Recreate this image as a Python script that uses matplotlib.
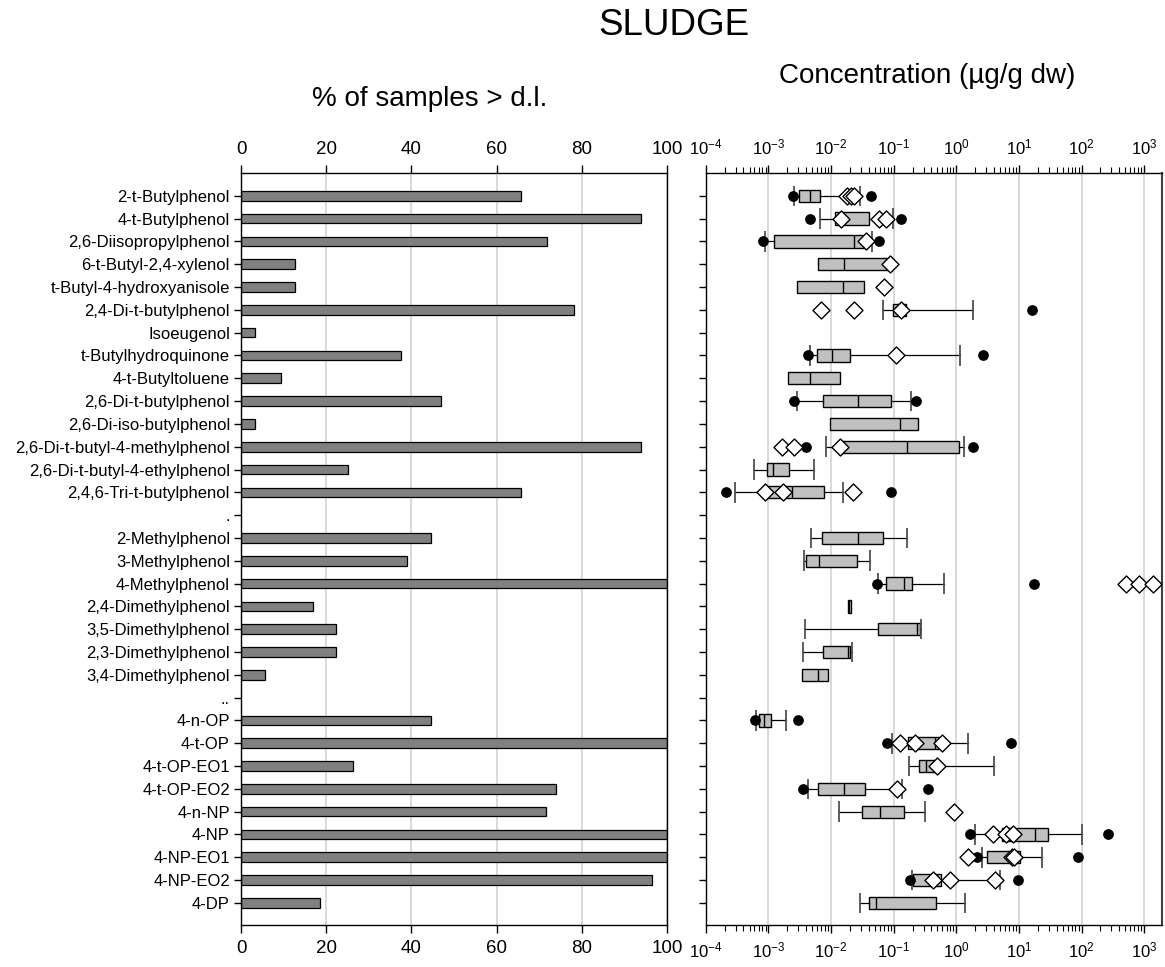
import numpy as np
import matplotlib
matplotlib.use("Agg")
import matplotlib.pyplot as plt
from matplotlib.ticker import LogLocator, FixedLocator, NullFormatter

plt.rcParams['font.family'] = ['Liberation Sans', 'DejaVu Sans']
plt.rcParams['mathtext.fontset'] = 'custom'
plt.rcParams['mathtext.rm'] = 'Liberation Sans'
plt.rcParams['mathtext.it'] = 'Liberation Sans:italic'
plt.rcParams['mathtext.bf'] = 'Liberation Sans:bold'

# ---- data -------------------------------------------------------------
compounds = [
    '2-t-Butylphenol', '4-t-Butylphenol', '2,6-Diisopropylphenol',
    '6-t-Butyl-2,4-xylenol', 't-Butyl-4-hydroxyanisole', '2,4-Di-t-butylphenol',
    'Isoeugenol', 't-Butylhydroquinone', '4-t-Butyltoluene',
    '2,6-Di-t-butylphenol', '2,6-Di-iso-butylphenol',
    '2,6-Di-t-butyl-4-methylphenol', '2,6-Di-t-butyl-4-ethylphenol',
    '2,4,6-Tri-t-butylphenol', '.',
    '2-Methylphenol', '3-Methylphenol', '4-Methylphenol', '2,4-Dimethylphenol',
    '3,5-Dimethylphenol', '2,3-Dimethylphenol', '3,4-Dimethylphenol', '..',
    '4-n-OP', '4-t-OP', '4-t-OP-EO1', '4-t-OP-EO2', '4-n-NP', '4-NP',
    '4-NP-EO1', '4-NP-EO2', '4-DP',
]

# % of samples above detection limit
pct_detected = [65.7, 93.8, 71.9, 12.7, 12.7, 78.2, 3.3, 37.6, 9.4, 46.9, 3.3,
                93.8, 25.1, 65.7, None, 44.6, 39.0, 100, 16.8, 22.3, 22.3, 5.6,
                None, 44.6, 100, 26.2, 74.0, 71.5, 100, 100, 96.4, 18.5]

# concentrations (ug/g dw): quartiles
q1 = [0.00303, 0.0114, 0.00124, 0.00617, 0.00284, 0.0964, None, 0.00594,
      0.00205, 0.0075, 0.00948, 0.014, 0.000933, 0.000944, None,
      0.00723, 0.00392, 0.0745, 0.0186, 0.0562, 0.0074, 0.00338, None,
      0.00072, 0.17, 0.254, 0.00617, 0.0311, 5.4, 3.06, 0.206, 0.0403]
median = [0.00459, 0.0146, 0.0229, 0.01626, 0.0153, 0.131, None, 0.0102,
          0.00454, 0.0265, 0.126, 0.165, 0.00119, 0.00237, None,
          0.0265, 0.0064, 0.1445, 0.0197, 0.236, 0.0188, 0.00617, None,
          0.000855, 0.457, 0.324, 0.0161, 0.0604, 17.9, 7.78, 0.435, 0.0521]
q3 = [0.00656, 0.0399, 0.033, 0.085, 0.0335, 0.159, None, 0.0198,
      0.0137, 0.0906, 0.242, 1.09, 0.0021, 0.00778, None,
      0.0675, 0.0256, 0.199, 0.0208, 0.26, 0.0198, 0.009, None,
      0.0011, 0.52, 0.46, 0.0343, 0.148, 28.9, 10.3, 0.578, 0.469]
# whisker ends (None = no whisker)
whisker_low = [0.00261, 0.00664, 0.000887, None, None, 0.0667, None, 0.00466,
               None, 0.00288, None, 0.00828, 0.000585, 0.000294, None,
               0.00476, 0.00368, 0.0555, None, 0.00382, 0.00359, None, None,
               0.00063, 0.0929, 0.178, 0.00427, 0.0134, 1.97, 2.58, 0.194, 0.0293]
whisker_high = [0.0286, 0.0964, 0.0455, None, None, 1.85, None, 1.13,
                None, 0.189, None, 1.35, 0.00526, 0.01567, None,
                0.165, 0.0424, 0.637, None, 0.276, 0.0213, None, None,
                0.00188, 1.54, 4.01, 0.134, 0.313, 102, 23.2, 5.06, 1.4]
# minimum / maximum values
extremes = [[0.00243, 0.044], [0.00466, 0.131], [0.000824, 0.0575], [], [],
            [16.2], [], [0.00427, 2.64], [], [0.00255, 0.227], [],
            [0.00392, 1.83], [], [0.000214, 0.0916], [],
            [], [], [0.054, 17.5], [], [], [], [], [],
            [0.000615, 0.00299], [0.0794, 7.4], [], [0.0036, 0.353], [],
            [1.68, 269], [2.14, 87], [0.182, 9.58], []]
# literature values
literature = [[0.0179, 0.021, 0.023], [0.0146, 0.0575, 0.0762], [0.0366],
              [0.0883], [0.069], [0.00689, 0.0232, 0.131], [], [0.107], [],
              [], [], [0.00162, 0.00255, 0.0137], [], [0.000887, 0.0017, 0.0224],
              [], [], [], [516, 832, 1377], [], [], [], [], [],
              [], [0.126, 0.218, 0.59], [0.492], [0.113], [0.92],
              [3.82, 6.17, 8.07], [1.52, 7.87, 8.47], [0.43, 0.78, 4.11], []]

pct_ticks = [0, 20, 40, 60, 80, 100]

# ---- figure -------------------------------------------------------------
fig = plt.figure(figsize=(11.65, 9.67), dpi=100)
ax1 = fig.add_axes([0.2069, 0.0434, 0.3657, 0.7777])
ax2 = fig.add_axes([0.6058, 0.0434, 0.3914, 0.7777])

rows = np.arange(len(compounds))
ylim = (31.97, -1.0)
grid_col = '#d3d3d3'

# left panel: detection frequency
det_rows = [r for r in rows if pct_detected[r] is not None]
ax1.barh(det_rows, [pct_detected[r] for r in det_rows], height=0.42,
         color='#808080', edgecolor='black', linewidth=0.9, zorder=2)
ax1.set_xlim(0, 100)
ax1.set_ylim(*ylim)
ax1.xaxis.set_major_locator(FixedLocator(pct_ticks))
ax1.set_xticklabels([str(t) for t in pct_ticks])
ax1.set_yticks(rows)
ax1.set_yticklabels(compounds, fontsize=12)
ax1.tick_params(axis='x', top=True, labeltop=True, bottom=True, labelbottom=True,
                direction='out', length=6, width=1, labelsize=13.5, pad=5)
ax1.tick_params(axis='y', direction='out', length=5, width=1, pad=3)
ax1.grid(axis='x', color=grid_col, linewidth=1.2, zorder=0)
ax1.set_axisbelow(True)
for s in ax1.spines.values():
    s.set_linewidth(1.0)

# right panel: concentrations
stats = []
box_rows = []
for r in rows:
    if q1[r] is None:
        continue
    lo = whisker_low[r] if whisker_low[r] is not None else q1[r]
    hi = whisker_high[r] if whisker_high[r] is not None else q3[r]
    stats.append(dict(med=median[r], q1=q1[r], q3=q3[r], whislo=lo, whishi=hi,
                      fliers=[]))
    box_rows.append(r)

ax2.set_xscale('log')
ax2.bxp(stats, positions=box_rows, widths=0.54, orientation='horizontal',
        patch_artist=True, showcaps=False, showfliers=False, manage_ticks=False,
        boxprops=dict(facecolor='#c0c0c0', edgecolor='black', linewidth=1.0),
        medianprops=dict(color='black', linewidth=1.0),
        whiskerprops=dict(color='black', linewidth=0.9), zorder=2)

cap_x, cap_y = [], []
for r in rows:
    for w in (whisker_low[r], whisker_high[r]):
        if w is not None:
            cap_x.append(w)
            cap_y.append(r)
cap_y = np.array(cap_y, dtype=float)
ax2.vlines(cap_x, cap_y - 0.45, cap_y + 0.45, color='#505050', linewidth=1.3,
           zorder=2.5)

ex_x = [v for r in rows for v in extremes[r]]
ex_y = [r for r in rows for v in extremes[r]]
ax2.scatter(ex_x, ex_y, s=45, marker='o', color='black', zorder=3)

lit_x = [v for r in rows for v in literature[r]]
lit_y = [r for r in rows for v in literature[r]]
ax2.scatter(lit_x, lit_y, s=75, marker='D', facecolor='white',
            edgecolor='black', linewidth=1.0, zorder=4)

ax2.set_xlim(1e-4, 10 ** 3.28)
ax2.set_ylim(*ylim)
ax2.xaxis.set_major_locator(LogLocator(base=10, numticks=20))
ax2.xaxis.set_minor_locator(LogLocator(base=10, subs=np.arange(2, 10), numticks=40))
ax2.xaxis.set_minor_formatter(NullFormatter())
ax2.set_yticks(rows)
ax2.set_yticklabels([])
ax2.tick_params(axis='x', which='both', top=True, labeltop=True, bottom=True,
                labelbottom=True, direction='out', labelsize=12, pad=5)
ax2.tick_params(axis='x', which='major', length=6, width=1)
ax2.tick_params(axis='x', which='minor', length=4, width=0.8)
ax2.tick_params(axis='y', direction='out', length=5, width=1)
ax2.grid(axis='x', which='major', color=grid_col, linewidth=1.2, zorder=0)
ax2.set_axisbelow(True)
for s in ax2.spines.values():
    s.set_linewidth(1.0)
ax2.spines['right'].set_color('#404040')
ax2.spines['right'].set_linewidth(1.5)

# headings
fig.text(0.5785, 0.9740, 'SLUDGE', ha='center', va='center', fontsize=26.5)
fig.text(0.7960, 0.9210, 'Concentration (µg/g dw)', ha='center', va='center',
         fontsize=20)
fig.text(0.3690, 0.8980, '% of samples > d.l.', ha='center', va='center',
         fontsize=20)

fig.savefig('out.png', dpi=100)
